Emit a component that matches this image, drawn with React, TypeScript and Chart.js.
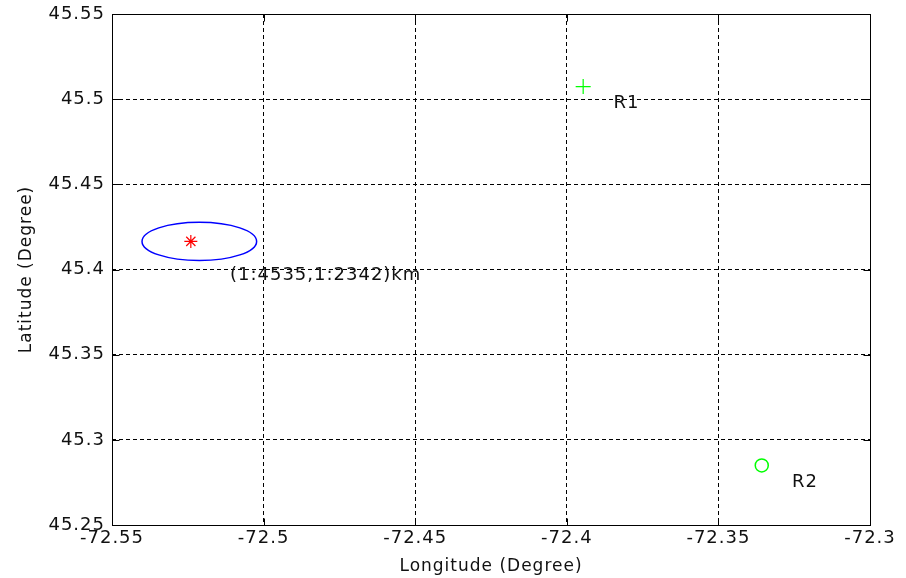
import React, { useEffect, useRef } from 'react';
import { Chart, registerables } from 'chart.js';

Chart.register(...registerables);

// ---- data ----
const xTicks = [-72.55, -72.5, -72.45, -72.4, -72.35, -72.3];
const xTickLabels = ['-72.55', '-72.5', '-72.45', '-72.4', '-72.35', '-72.3'];
const yTicks = [45.25, 45.3, 45.35, 45.4, 45.45, 45.5, 45.55];
const yTickLabels = ['45.25', '45.3', '45.35', '45.4', '45.45', '45.5', '45.55'];

const estimateLon = [-72.524];
const estimateLat = [45.4165];

const receiverNames = ['R1', 'R2'];
const receiverLon = [-72.3946, -72.3357];
const receiverLat = [45.5074, 45.285];
const receiverLabelOffset = [0.01, -0.01]; // [dLon, dLat] in degrees

const ellipseCenter = [-72.5212, 45.4165]; // [lon, lat]
const ellipseSemiAxes = [0.0189, 0.0112]; // [lon deg, lat deg]
const errorText = '(1:4535,1:2342)km';
const errorTextPos = [-72.5111, 45.3964];

const xTitle = 'Longitude (Degree)';
const yTitle = 'Latitude (Degree)';

const FONT = "'DejaVu Sans', Arial, sans-serif";
const TEXT = '#111111';
const SPACING = '1px';

const spacingPlugin = {
  id: 'spacing',
  beforeUpdate(chart: any) { chart.ctx.letterSpacing = SPACING; },
  beforeLayout(chart: any) { chart.ctx.letterSpacing = SPACING; },
  beforeDraw(chart: any) { chart.ctx.letterSpacing = SPACING; },
};

const overlayPlugin = {
  id: 'overlay',
  beforeDatasetsDraw(chart: any) {
    const { ctx, scales } = chart;
    const x = scales.x, y = scales.y;
    const cx = x.getPixelForValue(ellipseCenter[0]);
    const cy = y.getPixelForValue(ellipseCenter[1]);
    const rx = Math.abs(x.getPixelForValue(ellipseCenter[0] + ellipseSemiAxes[0]) - cx);
    const ry = Math.abs(y.getPixelForValue(ellipseCenter[1] + ellipseSemiAxes[1]) - cy);
    ctx.save();
    ctx.strokeStyle = '#0000ff';
    ctx.lineWidth = 1.5;
    ctx.beginPath();
    ctx.ellipse(cx, cy, rx, ry, 0, 0, Math.PI * 2);
    ctx.stroke();
    ctx.restore();
  },
  afterDraw(chart: any) {
    const { ctx, scales, chartArea } = chart;
    const x = scales.x, y = scales.y;
    ctx.save();
    // box
    ctx.strokeStyle = '#000';
    ctx.lineWidth = 1;
    ctx.setLineDash([]);
    const l = Math.round(chartArea.left) + 0.5;
    const r = Math.round(chartArea.right) + 0.5;
    const t = Math.round(chartArea.top) + 0.5;
    const b = Math.round(chartArea.bottom) + 0.5;
    ctx.strokeRect(l, t, r - l, b - t);
    // inner ticks
    const tl = 7;
    ctx.beginPath();
    xTicks.forEach((v) => {
      const px = Math.round(x.getPixelForValue(v)) + 0.5;
      ctx.moveTo(px, b); ctx.lineTo(px, b - tl);
      ctx.moveTo(px, t); ctx.lineTo(px, t + tl);
    });
    yTicks.forEach((v) => {
      const py = Math.round(y.getPixelForValue(v)) + 0.5;
      ctx.moveTo(l, py); ctx.lineTo(l + tl, py);
      ctx.moveTo(r, py); ctx.lineTo(r - tl, py);
    });
    ctx.stroke();
    // texts
    ctx.letterSpacing = SPACING;
    ctx.fillStyle = TEXT;
    ctx.font = `18px ${FONT}`;
    ctx.textAlign = 'left';
    ctx.textBaseline = 'middle';
    ctx.fillText(errorText, x.getPixelForValue(errorTextPos[0]), y.getPixelForValue(errorTextPos[1]));
    receiverNames.forEach((name, i) => {
      ctx.fillText(
        name,
        x.getPixelForValue(receiverLon[i] + receiverLabelOffset[0]),
        y.getPixelForValue(receiverLat[i] + receiverLabelOffset[1])
      );
    });
    ctx.restore();
  },
};

export default function App() {
  const ref = useRef<HTMLCanvasElement>(null);
  useEffect(() => {
    document.body.style.margin = '0';
    const canvas = ref.current!;
    const chart = new Chart(canvas, {
      type: 'scatter',
      data: {
        datasets: [
          {
            label: 'estimate',
            data: estimateLon.map((v, i) => ({ x: v, y: estimateLat[i] })),
            pointStyle: 'star',
            radius: 6.5,
            borderColor: '#ff0000',
            backgroundColor: '#ff0000',
            borderWidth: 1.2,
          },
          {
            label: 'R1',
            data: [{ x: receiverLon[0], y: receiverLat[0] }],
            pointStyle: 'cross',
            radius: 7.5,
            borderColor: '#00ff00',
            backgroundColor: '#00ff00',
            borderWidth: 1.2,
          },
          {
            label: 'R2',
            data: [{ x: receiverLon[1], y: receiverLat[1] }],
            pointStyle: 'circle',
            radius: 6.5,
            borderColor: '#00ff00',
            backgroundColor: 'rgba(0,0,0,0)',
            borderWidth: 1.5,
          },
        ],
      },
      options: {
        animation: false,
        responsive: false,
        devicePixelRatio: 1,
        layout: { padding: { left: 0, right: 36, top: 14, bottom: 0 } },
        plugins: { legend: { display: false }, tooltip: { enabled: false } },
        scales: {
          x: {
            type: 'linear',
            min: xTicks[0],
            max: xTicks[xTicks.length - 1],
            afterBuildTicks: (s: any) => { s.ticks = xTicks.map((v) => ({ value: v })); },
            afterFit: (s: any) => { s.height = 53; s.paddingLeft = 0; s.paddingRight = 0; },
            ticks: {
              autoSkip: false,
              maxRotation: 0,
              padding: 3,
              color: TEXT,
              font: { family: FONT, size: 18 },
              callback: (_v: any, i: number) => xTickLabels[i],
            },
            grid: { color: '#000', lineWidth: 1, drawTicks: false, borderDash: [4, 3] } as any,
            border: { display: false, dash: [4, 3] },
            title: {
              display: true,
              text: xTitle,
              color: TEXT,
              font: { family: FONT, size: 17 },
              padding: { top: 0, bottom: 1 },
            },
          },
          y: {
            type: 'linear',
            min: yTicks[0],
            max: yTicks[yTicks.length - 1],
            afterBuildTicks: (s: any) => { s.ticks = yTicks.map((v) => ({ value: v })); },
            afterFit: (s: any) => { s.width = 112; s.paddingTop = 0; s.paddingBottom = 0; },
            ticks: {
              autoSkip: false,
              padding: 7,
              color: TEXT,
              font: { family: FONT, size: 18 },
              callback: (_v: any, i: number) => yTickLabels[i],
            },
            grid: { color: '#000', lineWidth: 1, drawTicks: false, borderDash: [4, 3] } as any,
            border: { display: false, dash: [4, 3] },
            title: {
              display: true,
              text: yTitle,
              color: TEXT,
              font: { family: FONT, size: 17 },
              padding: { top: 16, bottom: 0 },
            },
          },
        },
      },
      plugins: [spacingPlugin, overlayPlugin],
    });
    return () => chart.destroy();
  }, []);
  return <canvas ref={ref} width={906} height={578} style={{ display: 'block' }} />;
}
